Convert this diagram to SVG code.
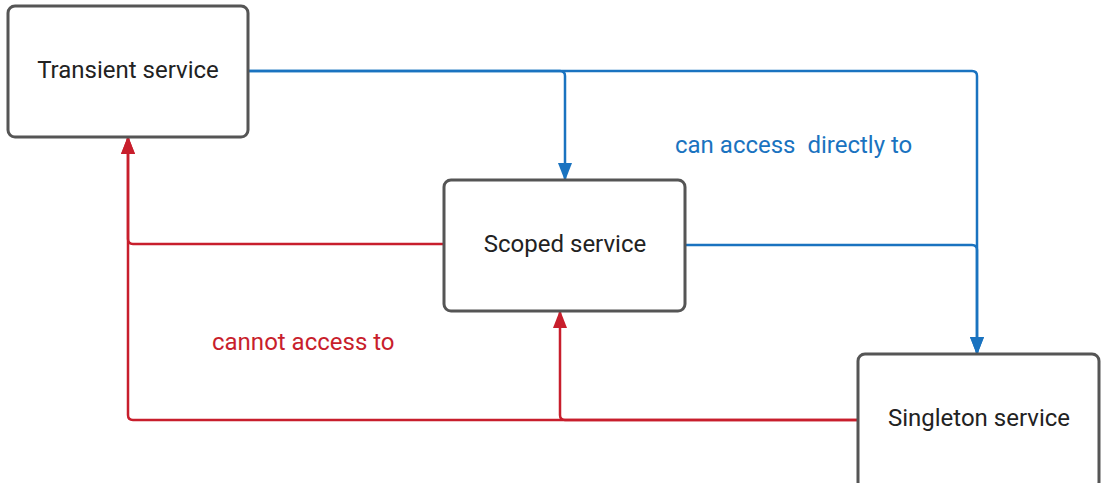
<svg xmlns="http://www.w3.org/2000/svg" width="1102" height="483" viewBox="0 0 1102 483">
  <style>
    .box { fill: #ffffff; stroke: #555555; stroke-width: 3; }
    .label { font-family: Roboto, "Liberation Sans", Arial, sans-serif; font-size: 24px; fill: #222222; text-anchor: middle; dominant-baseline: central; }
    .note { font-family: Roboto, "Liberation Sans", Arial, sans-serif; font-size: 24px; }
    .can { stroke: #1a73c0; stroke-width: 2.5; fill: none; }
    .cannot { stroke: #c81e2c; stroke-width: 2.5; fill: none; }
  </style>
  <defs>
    <marker id="arrow-blue" markerUnits="userSpaceOnUse" markerWidth="18" markerHeight="14" viewBox="0 0 18 14" refX="17" refY="7" orient="auto">
      <path d="M0,0 L18,7 L0,14 Z" fill="#1a73c0"/>
    </marker>
    <marker id="arrow-red" markerUnits="userSpaceOnUse" markerWidth="18" markerHeight="14" viewBox="0 0 18 14" refX="17" refY="7" orient="auto">
      <path d="M0,0 L18,7 L0,14 Z" fill="#c81e2c"/>
    </marker>
  </defs>

  <rect width="1102" height="483" fill="#ffffff"/>

  <!-- connectors -->
  <g id="connectors">
    <!-- can access directly to -->
    <path class="can" d="M248,71 H560 Q565,71 565,76 V180" marker-end="url(#arrow-blue)"/>
    <path class="can" d="M248,71 H972 Q977,71 977,76 V354" marker-end="url(#arrow-blue)"/>
    <path class="can" d="M685,245 H972 Q977,245 977,250 V354" marker-end="url(#arrow-blue)"/>
    <!-- cannot access to -->
    <path class="cannot" d="M444,244 H133 Q128,244 128,239 V137" marker-end="url(#arrow-red)"/>
    <path class="cannot" d="M858,420 H133 Q128,420 128,415 V137" marker-end="url(#arrow-red)"/>
    <path class="cannot" d="M858,420 H565 Q560,420 560,415 V311" marker-end="url(#arrow-red)"/>
  </g>

  <g id="transient">
    <rect class="box" x="8" y="6" width="240" height="131" rx="7"/>
    <text class="label" x="128" y="70">Transient service</text>
  </g>

  <g id="scoped">
    <rect class="box" x="444" y="180" width="241" height="131" rx="7"/>
    <text class="label" x="565" y="244">Scoped service</text>
  </g>

  <g id="singleton">
    <rect class="box" x="858" y="354" width="241" height="135" rx="7"/>
    <text class="label" x="979" y="418">Singleton service</text>
  </g>

  <text class="note" x="675" y="153" fill="#1a73c0" xml:space="preserve">can access  directly to</text>
  <text class="note" x="212" y="350" fill="#c81e2c">cannot access to</text>
</svg>
